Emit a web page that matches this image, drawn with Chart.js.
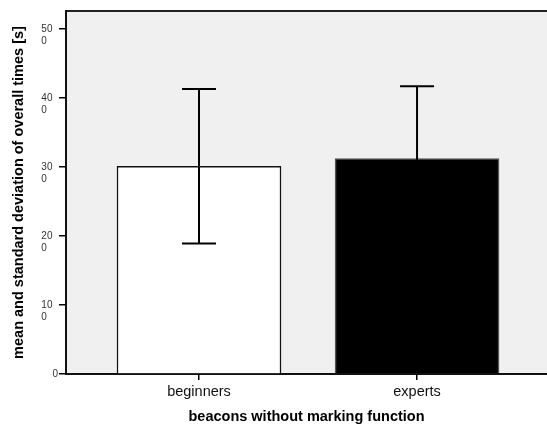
<!DOCTYPE html>
<html>
<head>
<meta charset="utf-8">
<script src="https://cdn.jsdelivr.net/npm/chart.js@4/dist/chart.umd.min.js"></script>
<style>
  html, body { margin: 0; padding: 0; background: #ffffff; }
  #wrap { width: 547px; height: 426px; }
</style>
</head>
<body>
<div id="wrap"><canvas id="chart" width="547" height="426"></canvas></div>
<script>
// ============================================================
// DATA
// ============================================================
const categories   = ["beginners", "experts"];
const categoryPos  = [1, 2];
const meanTimes    = [301, 312];
const sdTimes      = [112, 105];
const yTicks       = [0, 100, 200, 300, 400, 500];
const yTickLabels  = [["0"], ["10", "0"], ["20", "0"], ["30", "0"], ["40", "0"], ["50", "0"]];
const barFill      = ["#ffffff", "#000000"];
const barStroke    = ["#111111", "#555555"];

const FONT = "Arial, 'Liberation Sans', Helvetica, sans-serif";

// ============================================================
// PLUGINS
// ============================================================

// grey plot background + top frame line
const plotFrame = {
  id: "plotFrame",
  beforeDraw(chart) {
    const { ctx, chartArea: a } = chart;
    ctx.save();
    ctx.fillStyle = "#f0f0f0";
    ctx.fillRect(a.left, a.top, a.right - a.left, a.bottom - a.top);
    ctx.strokeStyle = "#222222";
    ctx.lineWidth = 2;
    ctx.beginPath();
    ctx.moveTo(a.right, a.top);
    ctx.lineTo(a.left, a.top);
    ctx.stroke();
    ctx.restore();
  }
};

// mean +/- sd error bars
const errorBars = {
  id: "errorBars",
  afterDatasetsDraw(chart) {
    const { ctx, scales } = chart;
    const xs = scales.x, ys = scales.y;
    ctx.save();
    ctx.strokeStyle = "#000000";
    ctx.lineWidth = 2;
    categoryPos.forEach((p, i) => {
      const x   = xs.getPixelForValue(p);
      const top = ys.getPixelForValue(meanTimes[i] + sdTimes[i]);
      const bot = ys.getPixelForValue(meanTimes[i] - sdTimes[i]);
      const cap = 17;
      ctx.beginPath();
      ctx.moveTo(x, top); ctx.lineTo(x, bot);
      ctx.moveTo(x - cap, top); ctx.lineTo(x + cap, top);
      ctx.moveTo(x - cap, bot); ctx.lineTo(x + cap, bot);
      ctx.stroke();
    });
    ctx.restore();
  }
};

// ============================================================
// CHART
// ============================================================
new Chart(document.getElementById("chart"), {
  type: "bar",
  data: {
    datasets: [{
      data: categoryPos.map((p, i) => ({ x: p, y: meanTimes[i] })),
      backgroundColor: barFill,
      borderColor: barStroke,
      borderWidth: 1.5,
      barThickness: 164,
    }],
  },
  options: {
    responsive: false,
    animation: false,
    layout: { padding: { top: 11, right: 0, left: 0, bottom: 0 } },
    plugins: {
      legend: { display: false },
      tooltip: { enabled: false },
    },
    scales: {
      x: {
        type: "linear",
        offset: false,
        min: 0.39,
        max: 2.596,
        afterBuildTicks: s => { s.ticks = categoryPos.map(v => ({ value: v })); },
        afterFit: s => { s.height = 52; s.paddingLeft = 0; s.paddingRight = 0; },
        ticks: {
          color: "#111111",
          padding: 3,
          font: { family: FONT, size: 14.5 },
          callback: v => categories[categoryPos.indexOf(v)],
        },
        grid: { offset: false, drawOnChartArea: false, drawTicks: true, tickLength: 6, color: "#000000", lineWidth: 1.5 },
        border: { display: true, color: "#111111", width: 2 },
        title: {
          display: true,
          text: "beacons without marking function",
          color: "#000000",
          font: { family: FONT, size: 14.5, weight: "bold" },
          padding: { top: 0, bottom: 0 },
        },
      },
      y: {
        min: 0,
        max: 526,
        afterBuildTicks: s => { s.ticks = yTicks.map(v => ({ value: v })); },
        afterFit: s => { s.width = 66; s.paddingTop = 0; s.paddingBottom = 0; },
        ticks: {
          color: "#333333",
          padding: 1,
          font: { family: FONT, size: 10, lineHeight: "12px" },
          callback: v => {
            const lbl = yTickLabels[yTicks.indexOf(v)];
            if (lbl.length === 1) return lbl[0];
            // wrapped label: first line sits on the tick, lines left-aligned
            return ["", lbl[0] + "  ", lbl[1] + "    "];
          },
        },
        grid: { drawOnChartArea: false, drawTicks: true, tickLength: 7, color: "#000000", lineWidth: 1.5 },
        border: { display: true, color: "#111111", width: 2 },
        title: {
          display: true,
          text: "mean and standard deviation of overall times [s]",
          color: "#000000",
          font: { family: FONT, size: 14.5, weight: "bold" },
          padding: { top: 10, bottom: 0 },
        },
      },
    },
  },
  plugins: [plotFrame, errorBars],
});
</script>
</body>
</html>
